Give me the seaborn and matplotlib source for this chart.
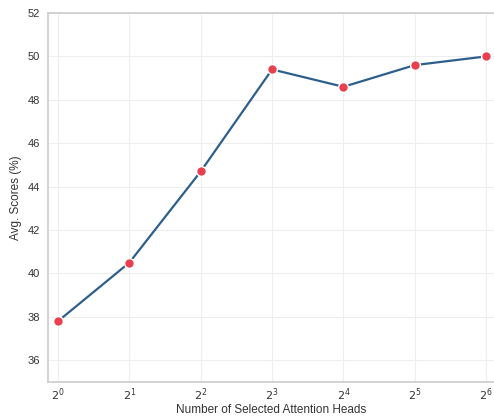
import matplotlib
matplotlib.use("Agg")
import matplotlib.pyplot as plt
import seaborn as sns
import pandas as pd
import numpy as np

heads = [1, 2, 4, 8, 16, 32, 64]
scores = [37.8, 40.5, 44.7, 49.4, 48.6, 49.6, 50.0]
yticks = [36, 38, 40, 42, 44, 46, 48, 50, 52]

sns.set_theme(style="whitegrid")
plt.rcParams['font.family'] = ['Liberation Sans', 'DejaVu Sans']

df = pd.DataFrame({"heads": heads, "score": scores})

fig = plt.figure(figsize=(4.94, 4.17), dpi=100)
ax = fig.add_axes([48/494, 35/417, 446/494, 369/417])

sns.lineplot(data=df, x="heads", y="score", ax=ax, color="#2e5f8c", linewidth=1.6,
             marker="o", markersize=7, markerfacecolor="#e8404e", markeredgecolor="white",
             markeredgewidth=1.0)

ax.set_xscale("log", base=2)
ax.set_xlim(2**-0.14, 2**6.11)
ax.set_ylim(35, 52)
ax.set_yticks(yticks)
ax.set_xticks(heads)
ax.set_xticklabels([f"$2^{{{i}}}$" for i in range(7)])
ax.minorticks_off()

ax.set_xlabel("Number of Selected Attention Heads", fontsize=8.5, color="#333333", labelpad=1)
ax.set_ylabel("Avg. Scores (%)", fontsize=8.5, color="#333333")
ax.tick_params(axis="y", labelsize=8, colors="#333333", length=0, pad=6)
ax.tick_params(axis="x", labelsize=8, colors="#333333", length=0, pad=3)

ax.grid(True, color="#eeeeee", linewidth=0.8)
for s in ["top", "left", "bottom"]:
    ax.spines[s].set_visible(True)
    ax.spines[s].set_color("#cccccc")
    ax.spines[s].set_linewidth(1.2)
ax.spines["right"].set_visible(False)

fig.savefig("out.png", dpi=100)
